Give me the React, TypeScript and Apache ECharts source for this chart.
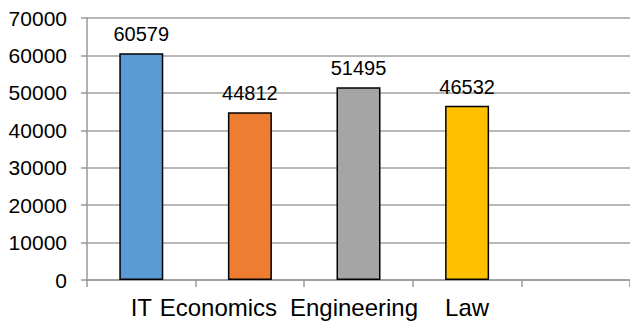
import React, { useEffect, useRef } from "react";
import * as echarts from "echarts";

const categories = ["IT", "Economics", "Engineering", "Law", ""];
const values: (number | string)[] = [60579, 44812, 51495, 46532, "-"];
const barColors = ["#5B9BD5", "#ED7D31", "#A5A5A5", "#FFC000", "#5B9BD5"];
// shift of each category label to the left (px), as in the reference layout
const labelShiftLeft = [0, 63, 9, 0, 0];

export default function App() {
  const ref = useRef<HTMLDivElement>(null);
  useEffect(() => {
    if (!ref.current) return;
    const chart = echarts.init(ref.current, undefined, { renderer: "svg" });
    const rich: Record<string, any> = {};
    labelShiftLeft.forEach((s, i) => {
      rich["c" + i] = {
        fontFamily: "Liberation Sans",
        fontSize: 24,
        color: "#000000",
        padding: [0, s, 0, 0],
      };
    });
    chart.setOption({
      animation: false,
      backgroundColor: "#ffffff",
      grid: { left: 87, top: 18, bottom: 42, width: 546 },
      xAxis: {
        type: "category",
        data: categories,
        axisLine: { show: true, lineStyle: { color: "#999999", width: 1.5 } },
        axisTick: { show: true, length: 7, lineStyle: { color: "#999999", width: 1.5 } },
        axisLabel: {
          interval: 0,
          hideOverlap: false,
          color: "#000000",
          fontFamily: "Liberation Sans",
          fontSize: 24,
          margin: 15,
          formatter: (v: string, i: number) => (v ? `{c${i}|${v}}` : ""),
          rich,
        },
      },
      yAxis: {
        type: "value",
        min: 0,
        max: 70000,
        interval: 10000,
        axisLine: { show: true, lineStyle: { color: "#999999", width: 1.5 } },
        axisTick: { show: true, length: 6, lineStyle: { color: "#999999", width: 1.5 } },
        splitLine: { show: true, lineStyle: { color: "#a0a0a0", width: 1.5 } },
        axisLabel: {
          color: "#000000",
          fontFamily: "Liberation Sans",
          fontSize: 21,
          margin: 20,
          formatter: (v: number) => String(v),
        },
      },
      series: [
        {
          type: "bar",
          data: values.map((v, i) => ({
            value: v,
            itemStyle: { color: barColors[i] },
          })),
          barWidth: 44,
          itemStyle: { borderColor: "#000000", borderWidth: 1.5 },
          label: {
            show: true,
            position: "top",
            distance: 9,
            color: "#000000",
            fontFamily: "Liberation Sans",
            fontSize: 20,
          },
        },
      ],
    });
    return () => chart.dispose();
  }, []);
  return (
    <div
      ref={ref}
      style={{ position: "fixed", left: 0, top: 0, width: 630, height: 322 }}
    />
  );
}
